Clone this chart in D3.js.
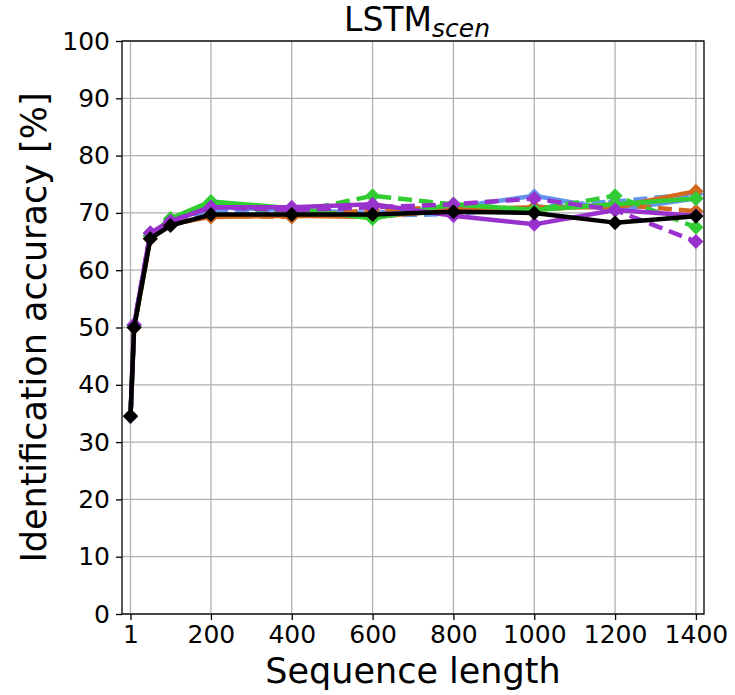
<!DOCTYPE html>
<html>
<head>
<meta charset="utf-8">
<script src="https://cdn.jsdelivr.net/npm/d3@7"></script>
<style>
  body { margin: 0; background: #fff; }
  svg { font-family: 'DejaVu Sans', sans-serif; }
</style>
</head>
<body>
<svg width="735" height="695"></svg>
<script>
const seqLengths = [1, 10, 50, 100, 200, 400, 600, 800, 1000, 1200, 1400];
const xTicks = [1, 200, 400, 600, 800, 1000, 1200, 1400];
const yTicks = [0, 10, 20, 30, 40, 50, 60, 70, 80, 90, 100];

const blueSolid    = [34.5, 50.3, 66.0, 68.5, 71.0, 70.5, 70.0, 71.0, 73.0, 70.5, 72.5];
const blueDashed   = [34.5, 50.3, 66.0, 68.5, 70.5, 70.0, 69.5, 69.8, 71.0, 72.0, 73.3];
const orangeSolid  = [34.5, 50.0, 65.5, 68.0, 69.3, 69.5, 69.3, 70.5, 71.0, 71.0, 73.8];
const orangeDashed = [34.5, 50.0, 65.5, 68.0, 69.5, 69.3, 70.5, 71.0, 70.5, 71.5, 70.3];
const greenSolid   = [34.5, 50.3, 66.0, 69.0, 72.0, 70.8, 69.0, 71.5, 70.5, 71.5, 72.5];
const greenDashed  = [34.5, 50.3, 66.0, 69.0, 71.5, 70.0, 73.0, 71.5, 70.5, 73.0, 67.5];
const purpleSolid  = [34.5, 50.5, 66.5, 68.5, 71.0, 71.0, 71.5, 69.5, 68.0, 70.5, 69.5];
const purpleDashed = [34.5, 50.5, 66.5, 68.5, 71.0, 70.5, 71.0, 71.5, 72.5, 70.5, 65.0];
const average      = [34.5, 50.0, 65.5, 67.8, 69.7, 69.7, 69.7, 70.2, 70.0, 68.3, 69.4];

const series = [
    { values: blueSolid, color: '#6495ED', dashed: false },
    { values: blueDashed, color: '#6495ED', dashed: true },
    { values: orangeSolid, color: '#D2691E', dashed: false },
    { values: orangeDashed, color: '#D2691E', dashed: true },
    { values: greenSolid, color: '#32CD32', dashed: false },
    { values: greenDashed, color: '#32CD32', dashed: true },
    { values: purpleSolid, color: '#9932CC', dashed: false },
    { values: purpleDashed, color: '#9932CC', dashed: true },
    { values: average, color: '#000000', dashed: false },
];

const svg = d3.select('svg');
const margin = { top: 41, right: 31, bottom: 81, left: 122 };
const width = +svg.attr('width');
const height = +svg.attr('height');
const innerWidth = width - margin.left - margin.right;
const innerHeight = height - margin.top - margin.bottom;

const xScale = d3.scaleLinear().domain([-20, 1420]).range([0, innerWidth]);
const yScale = d3.scaleLinear().domain([0, 100]).range([innerHeight, 0]);

const g = svg.append('g')
    .attr('transform', `translate(${margin.left}, ${margin.top})`);

// GRID
g.append('g').selectAll('line')
    .data(xTicks).enter().append('line')
        .attr('x1', d => xScale(d)).attr('x2', d => xScale(d))
        .attr('y1', 0).attr('y2', innerHeight)
        .attr('stroke', '#b0b0b0').attr('stroke-width', 1.3);
g.append('g').selectAll('line')
    .data(yTicks).enter().append('line')
        .attr('y1', d => yScale(d)).attr('y2', d => yScale(d))
        .attr('x1', 0).attr('x2', innerWidth)
        .attr('stroke', '#b0b0b0').attr('stroke-width', 1.3);

// AXES
const xAxis = d3.axisBottom(xScale).tickValues(xTicks).tickSize(6).tickPadding(5).tickFormat(d3.format('d'));
const yAxis = d3.axisLeft(yScale).tickValues(yTicks).tickSize(6).tickPadding(6);

const xg = g.append('g').attr('transform', `translate(0, ${innerHeight})`).call(xAxis);
const yg = g.append('g').call(yAxis);
[xg, yg].forEach(a => {
    a.select('.domain').remove();
    a.selectAll('line').attr('stroke', '#000').attr('stroke-width', 1.3);
    a.selectAll('text').attr('font-size', 25).attr('fill', '#000')
        .attr('font-family', "'DejaVu Sans', sans-serif");
});

// SERIES
const line = d3.line()
    .x((d, i) => xScale(seqLengths[i]))
    .y(d => yScale(d));
const diamond = s => `M0,${-s}L${s},0L0,${s}L${-s},0Z`;

const plot = g.append('g');
series.forEach(s => {
    plot.append('path')
        .datum(s.values)
        .attr('d', line)
        .attr('fill', 'none')
        .attr('stroke', s.color)
        .attr('stroke-width', 4.5)
        .attr('stroke-linejoin', 'round')
        .attr('stroke-dasharray', s.dashed ? '14,7' : null);
    plot.selectAll(null)
        .data(s.values)
        .enter()
        .append('path')
            .attr('d', diamond(7.5))
            .attr('transform', (d, i) => `translate(${xScale(seqLengths[i])}, ${yScale(d)})`)
            .attr('fill', s.color);
});

// FRAME
g.append('rect')
    .attr('width', innerWidth).attr('height', innerHeight)
    .attr('fill', 'none').attr('stroke', '#000').attr('stroke-width', 1.3);

// LABELS
svg.append('text')
    .attr('x', margin.left + innerWidth / 2).attr('y', 683)
    .attr('text-anchor', 'middle').attr('font-size', 35)
    .text('Sequence length');
svg.append('text')
    .attr('transform', `translate(46, ${margin.top + innerHeight / 2}) rotate(-90)`)
    .attr('text-anchor', 'middle').attr('font-size', 35)
    .text('Identification accuracy [%]');
const title = svg.append('text')
    .attr('x', margin.left + innerWidth / 2 + 4).attr('y', 31)
    .attr('text-anchor', 'middle').attr('font-size', 33);
title.append('tspan').text('LSTM');
title.append('tspan').attr('font-size', 25).attr('font-style', 'italic').attr('dy', 6).text('scen');
</script>
</body>
</html>
